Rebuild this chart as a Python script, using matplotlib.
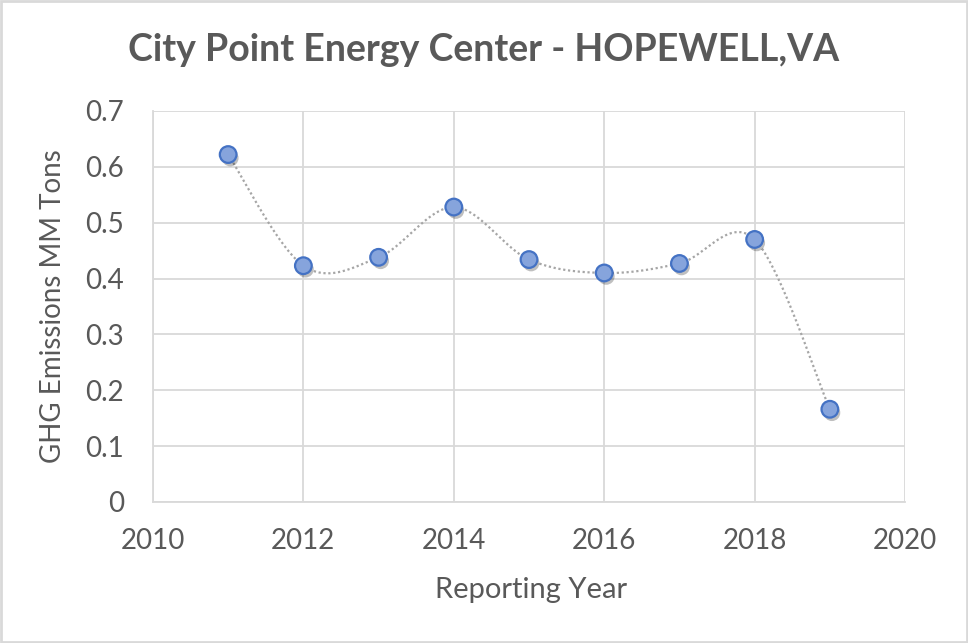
import matplotlib
matplotlib.use("Agg")
import matplotlib.pyplot as plt
import matplotlib.patheffects as pe
import numpy as np

plt.rcParams["font.family"] = ["Lato", "DejaVu Sans"]

# ── data ──────────────────────────────────────────────────────────────────────
YEARS = [2011, 2012, 2013, 2014, 2015, 2016, 2017, 2018, 2019]
EMISSIONS = [0.622, 0.423, 0.438, 0.528, 0.434, 0.410, 0.427, 0.470, 0.166]

TITLE = "City Point Energy Center - HOPEWELL,VA"
XLABEL = "Reporting Year"
YLABEL = "GHG Emissions MM Tons"

TEXT = "#595959"
GRID = "#d9d9d9"


def smooth_curve(xs, ys, n=40):
    """Catmull-Rom style Bezier smoothing (like Excel's smoothed line)."""
    pts = np.column_stack([xs, ys]).astype(float)
    out = []
    for i in range(len(pts) - 1):
        p0 = pts[i - 1] if i > 0 else pts[i]
        p1 = pts[i]
        p2 = pts[i + 1]
        p3 = pts[i + 2] if i + 2 < len(pts) else pts[i + 1]
        c1 = p1 + (p2 - p0) / 6
        c2 = p2 - (p3 - p1) / 6
        t = np.linspace(0, 1, n)[:, None]
        seg = ((1 - t) ** 3) * p1 + 3 * ((1 - t) ** 2) * t * c1 \
            + 3 * (1 - t) * t ** 2 * c2 + t ** 3 * p2
        out.append(seg if i == 0 else seg[1:])
    seg = np.vstack(out)
    return seg[:, 0], seg[:, 1]


fig = plt.figure(figsize=(9.68, 6.43), dpi=100)
ax = fig.add_axes([0.158, 0.2193, 0.777, 0.6081])

sx, sy = smooth_curve(YEARS, EMISSIONS)
ax.plot(sx, sy, color="#a6a6a6", linestyle=(0, (1, 1.2)), linewidth=1.6, zorder=3)

ax.plot(YEARS, EMISSIONS, linestyle="none", marker="o", markersize=12,
        markerfacecolor="#86a4dc", markeredgecolor="#4472c4", markeredgewidth=1.6,
        zorder=4,
        path_effects=[pe.SimplePatchShadow(offset=(1.5, -2.5), shadow_rgbFace="#000000",
                                           alpha=0.25), pe.Normal()])

ax.set_xlim(2010, 2020)
ax.set_ylim(0, 0.7)
ax.set_xticks(range(2010, 2021, 2))
ax.set_yticks(np.arange(0, 0.71, 0.1))
ax.set_yticklabels(["0", "0.1", "0.2", "0.3", "0.4", "0.5", "0.6", "0.7"])

ax.grid(True, color=GRID, linewidth=1.3)
ax.set_axisbelow(True)
for s in ax.spines.values():
    s.set_visible(False)
for side in ("left", "bottom"):
    ax.spines[side].set_visible(True)
    ax.spines[side].set_color(GRID)
    ax.spines[side].set_linewidth(1.3)

ax.tick_params(length=0, labelsize=20, labelcolor=TEXT)
ax.tick_params(axis="x", pad=19)
ax.tick_params(axis="y", pad=21)

ax.set_xlabel(XLABEL, fontsize=21, color=TEXT, va="center")
ax.xaxis.set_label_coords(0.503, -0.225)
ax.set_ylabel(YLABEL, fontsize=20, color=TEXT, va="center")
ax.yaxis.set_label_coords(-0.133, 0.5)

fig.text(0.5, 0.922, TITLE, ha="center", va="center", fontsize=27,
         fontweight="bold", color=TEXT)

fig.patches.append(plt.Rectangle((0.001, 0.001), 0.998, 0.998, transform=fig.transFigure,
                                 fill=False, edgecolor="#d9d9d9", linewidth=2))

fig.savefig("out.png", dpi=100)
